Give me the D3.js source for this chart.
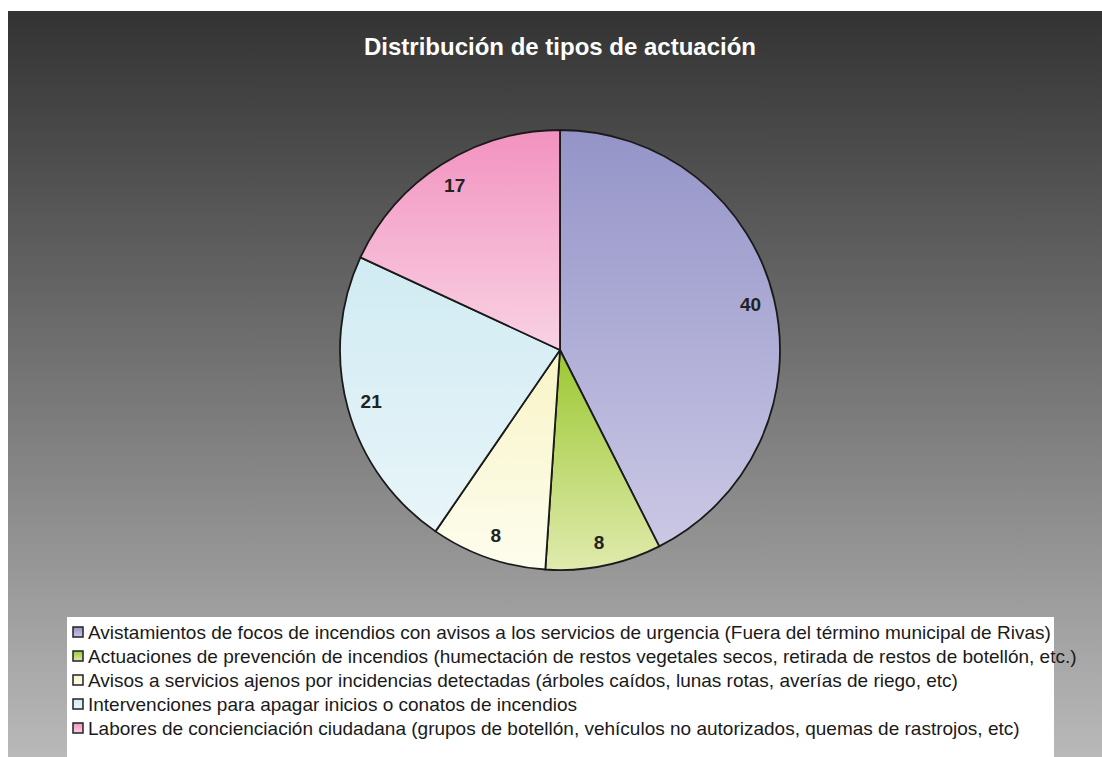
<!DOCTYPE html>
<html>
<head>
<meta charset="utf-8">
<script src="https://cdn.jsdelivr.net/npm/d3@7"></script>
<style>
  html, body { margin: 0; padding: 0; background: #fff; }
  svg { display: block; font-family: "Liberation Sans", Arial, sans-serif; }
</style>
</head>
<body>
<div id="chart"></div>
<script>
// datos del grafico
var categories = [
    "Avistamientos de focos de incendios con avisos a los servicios de urgencia (Fuera del término municipal de Rivas)",
    "Actuaciones de prevención de incendios (humectación de restos vegetales secos, retirada de restos de botellón, etc.)",
    "Avisos a servicios ajenos por incidencias detectadas (árboles caídos, lunas rotas, averías de riego, etc)",
    "Intervenciones para apagar inicios o conatos de incendios",
    "Labores de concienciación ciudadana (grupos de botellón, vehículos no autorizados, quemas de rastrojos, etc)"
];
var values = [40, 8, 8, 21, 17];
var topColors = ["#9494c8", "#9cc832", "#f8f4c6", "#d0ebf2", "#f292bf"];
var bottomColors = ["#cbc8e5", "#e0eaad", "#fdfdee", "#e8f5f9", "#f9d2e4"];
var title = "Distribución de tipos de actuación";

var svgWidth = 1102;
var svgHeight = 757;
var cx = 560, cy = 350, radius = 220;

var svg = d3.select("#chart").append("svg")
    .attr("width", svgWidth)
    .attr("height", svgHeight);

var defs = svg.append("defs");

// fondo gris degradado
var bgGrad = defs.append("linearGradient")
    .attr("id", "bgGrad")
    .attr("x1", 0).attr("y1", 0).attr("x2", 0).attr("y2", 1);
bgGrad.append("stop").attr("offset", "0%").attr("stop-color", "#333333");
bgGrad.append("stop").attr("offset", "100%").attr("stop-color", "#b9b9b9");

svg.append("rect")
    .attr("x", 8).attr("y", 11)
    .attr("width", svgWidth - 8).attr("height", svgHeight - 11)
    .attr("fill", "url(#bgGrad)");

// un degradado vertical por sector
values.forEach(function(v, i) {
    var g = defs.append("linearGradient")
        .attr("id", "slice" + i)
        .attr("x1", 0).attr("y1", 0).attr("x2", 0).attr("y2", 1);
    g.append("stop").attr("offset", "0%").attr("stop-color", topColors[i]);
    g.append("stop").attr("offset", "100%").attr("stop-color", bottomColors[i]);
});

svg.append("text")
    .attr("x", cx).attr("y", 55)
    .attr("text-anchor", "middle")
    .attr("fill", "#ffffff")
    .attr("font-size", "24px")
    .attr("font-weight", "bold")
    .text(title);

var pie = d3.pie().sort(null).value(function(d) { return d; });
var arcs = pie(values);

var arc = d3.arc().innerRadius(0).outerRadius(radius);
var labelArc = d3.arc().innerRadius(radius * 0.89).outerRadius(radius * 0.89);

var pieGroup = svg.append("g")
    .attr("transform", "translate(" + cx + "," + cy + ")");

pieGroup.selectAll("path.slice")
    .data(arcs)
    .enter().append("path")
        .attr("class", "slice")
        .attr("d", arc)
        .attr("fill", function(d, i) { return "url(#slice" + i + ")"; })
        .attr("stroke", "#1a1a1a")
        .attr("stroke-width", 1.8)
        .attr("stroke-linejoin", "round");

pieGroup.selectAll("text.lbl")
    .data(arcs)
    .enter().append("text")
        .attr("class", "lbl")
        .attr("transform", function(d) { return "translate(" + labelArc.centroid(d) + ")"; })
        .attr("text-anchor", "middle")
        .attr("dy", "0.35em")
        .attr("font-size", "19px")
        .attr("font-weight", "bold")
        .attr("fill", "#222222")
        .text(function(d) { return d.data; });

// leyenda
var legendX = 67, legendY = 617, rowH = 24;

svg.append("rect")
    .attr("x", legendX).attr("y", legendY)
    .attr("width", 1054 - legendX).attr("height", svgHeight - legendY)
    .attr("fill", "#ffffff");

var rows = svg.selectAll("g.legend")
    .data(categories)
    .enter().append("g")
        .attr("class", "legend")
        .attr("transform", function(d, i) { return "translate(" + legendX + "," + (legendY + 15 + i * rowH) + ")"; });

rows.append("rect")
    .attr("x", 6).attr("y", -5)
    .attr("width", 10).attr("height", 10)
    .attr("fill", function(d, i) { return "url(#slice" + i + ")"; })
    .attr("stroke", "#222222")
    .attr("stroke-width", 1.5);

rows.append("text")
    .attr("x", 21)
    .attr("dy", "0.36em")
    .attr("font-size", "19px")
    .attr("fill", "#1a1a1a")
    .text(function(d) { return d; });
</script>
</body>
</html>
